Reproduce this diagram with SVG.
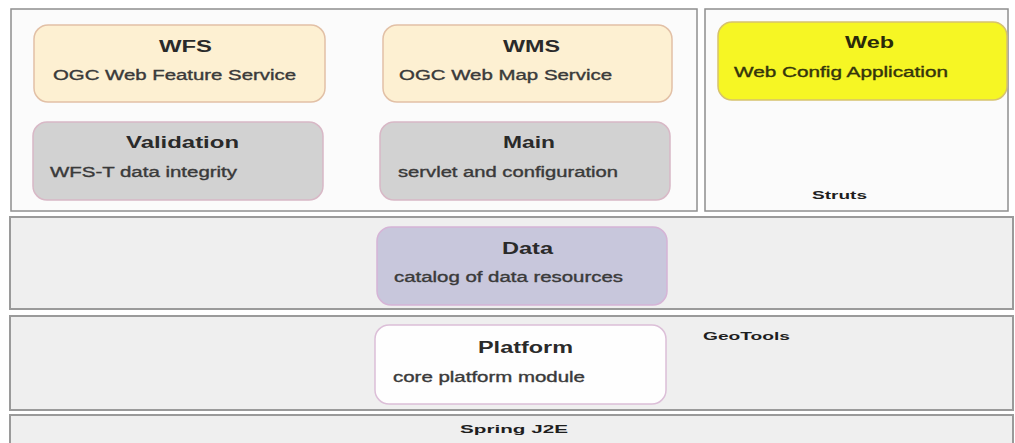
<svg xmlns="http://www.w3.org/2000/svg" width="1015" height="443" viewBox="0 0 1015 443">
  <style>
    .layer { fill: #efefef; stroke: #9a9a9a; stroke-width: 2; }
    .frame { fill: #fbfbfb; stroke: #8f8f8f; stroke-width: 1.5; }
    .node { stroke-width: 1.5; }
    .title { font-family: "Liberation Sans", Arial, sans-serif; font-weight: bold; font-size: 16px; fill: #2a2a2a; }
    .sub { font-family: "Liberation Sans", Arial, sans-serif; font-size: 14px; fill: #3a3a3a; stroke: #3a3a3a; stroke-width: 0.35; }
    .tag { font-family: "Liberation Sans", Arial, sans-serif; font-weight: bold; font-size: 11px; fill: #1e1e1e; }
    .svc { fill: #fdf0d2; stroke: #e2c0a6; }
    .grey { fill: #d2d2d2; stroke: #d8b8c6; }
    .data { fill: #c8c7dc; stroke: #d5b4d6; }
    .plat { fill: #fefefe; stroke: #dcbfd8; }
    .web { fill: #f6f624; stroke: #d6c26e; }
  </style>
  <rect width="1015" height="443" fill="#ffffff"/>

  <g id="layer-spring">
    <rect class="layer" x="10" y="415" width="1003" height="40"/>
    <text class="tag" x="460" y="433" textLength="108" lengthAdjust="spacingAndGlyphs">Spring   J2E</text>
  </g>
  <g id="layer-geotools">
    <rect class="layer" x="10" y="316" width="1003" height="94"/>
    <text class="tag" x="703" y="340" textLength="87" lengthAdjust="spacingAndGlyphs">GeoTools</text>
  </g>
  <g id="layer-data">
    <rect class="layer" x="10" y="217" width="1003" height="92"/>
  </g>
  <g id="frame-main">
    <rect class="frame" x="11" y="9" width="686" height="202"/>
  </g>
  <g id="frame-struts">
    <rect class="frame" x="705" y="9" width="303" height="202"/>
    <text class="tag" x="812" y="199" textLength="55" lengthAdjust="spacingAndGlyphs">Struts</text>
  </g>

  <g id="wfs">
    <rect class="node svc" x="34" y="25" width="291" height="77" rx="14"/>
    <text class="title" x="159" y="52" textLength="53" lengthAdjust="spacingAndGlyphs">WFS</text>
    <text class="sub" x="53" y="80" textLength="243" lengthAdjust="spacingAndGlyphs">OGC Web Feature Service</text>
  </g>
  <g id="wms">
    <rect class="node svc" x="383" y="25" width="289" height="77" rx="14"/>
    <text class="title" x="503" y="52" textLength="57" lengthAdjust="spacingAndGlyphs">WMS</text>
    <text class="sub" x="399" y="80" textLength="213" lengthAdjust="spacingAndGlyphs">OGC Web Map Service</text>
  </g>
  <g id="validation">
    <rect class="node grey" x="33" y="122" width="290" height="78" rx="14"/>
    <text class="title" x="126" y="148" textLength="113" lengthAdjust="spacingAndGlyphs">Validation</text>
    <text class="sub" x="50" y="177" textLength="187" lengthAdjust="spacingAndGlyphs">WFS-T data integrity</text>
  </g>
  <g id="main">
    <rect class="node grey" x="380" y="122" width="290" height="78" rx="14"/>
    <text class="title" x="503" y="148" textLength="52" lengthAdjust="spacingAndGlyphs">Main</text>
    <text class="sub" x="398" y="177" textLength="220" lengthAdjust="spacingAndGlyphs">servlet and configuration</text>
  </g>
  <g id="web">
    <rect class="node web" x="718" y="22" width="289" height="78" rx="14"/>
    <text class="title" x="845" y="48" textLength="49" lengthAdjust="spacingAndGlyphs" style="fill:#2a2a0a">Web</text>
    <text class="sub" x="734" y="77" textLength="214" lengthAdjust="spacingAndGlyphs" style="fill:#34340c;stroke:#34340c">Web Config Application</text>
  </g>
  <g id="data">
    <rect class="node data" x="377" y="227" width="290" height="78" rx="14"/>
    <text class="title" x="502" y="254" textLength="51" lengthAdjust="spacingAndGlyphs">Data</text>
    <text class="sub" x="394" y="282" textLength="229" lengthAdjust="spacingAndGlyphs">catalog of data resources</text>
  </g>
  <g id="platform">
    <rect class="node plat" x="375" y="325" width="291" height="79" rx="14"/>
    <text class="title" x="478" y="353" textLength="95" lengthAdjust="spacingAndGlyphs">Platform</text>
    <text class="sub" x="393" y="382" textLength="192" lengthAdjust="spacingAndGlyphs">core platform module</text>
  </g>

  <g id="connectors"/>
</svg>
